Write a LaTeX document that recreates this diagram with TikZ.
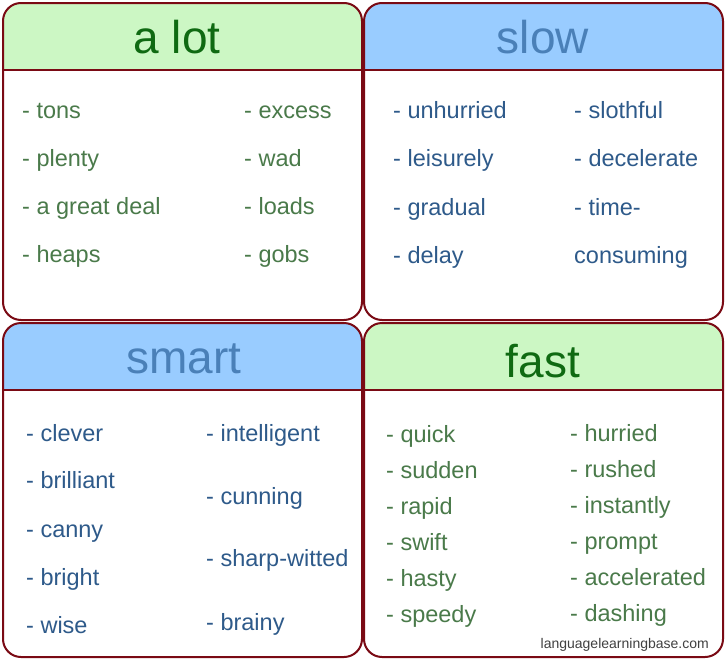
\documentclass[tikz,border=0pt]{standalone}
\usepackage{fontspec}
\setmainfont{Liberation Sans}
\definecolor{bord}{HTML}{7A0A14}
\definecolor{hgreen}{HTML}{CCF7C4}
\definecolor{hblue}{HTML}{99CCFF}
\definecolor{tgreen}{HTML}{0F6A12}
\definecolor{tblue}{HTML}{4A80B8}
\definecolor{wgreen}{HTML}{4A7A4A}
\definecolor{wblue}{HTML}{2E5A8A}
\begin{document}
\begin{tikzpicture}[x=1pt,y=-1pt,
  panel/.style={draw=bord,line width=2pt,rounded corners=18pt},
  ttl/.style={font=\fontsize{46}{50}\selectfont,anchor=center,text height=1.5ex,text depth=0.25ex,yshift=-12pt},
  wbase/.style={anchor=west,font=\fontsize{23.5}{26}\selectfont,inner sep=0pt,text height=1.5ex,text depth=0.25ex,yshift=-5pt},
  wg/.style={wbase,text=wgreen},
  wb/.style={wbase,text=wblue}]
\useasboundingbox (0,0) rectangle (726,664);
\fill[white] (0,0) rectangle (726,664);
% headers
\begin{scope}
\clip[rounded corners=18pt] (3,3) rectangle (362,320);
\fill[hgreen] (3,3) rectangle (362,70);
\end{scope}
\begin{scope}
\clip[rounded corners=18pt] (364,3) rectangle (723,320);
\fill[hblue] (364,3) rectangle (723,70);
\end{scope}
\begin{scope}
\clip[rounded corners=18pt] (3,323) rectangle (362,657);
\fill[hblue] (3,323) rectangle (362,390);
\end{scope}
\begin{scope}
\clip[rounded corners=18pt] (364,323) rectangle (723,657);
\fill[hgreen] (364,323) rectangle (723,390);
\end{scope}
\draw[bord,line width=2pt] (3,70)--(362,70) (364,70)--(723,70) (3,390)--(362,390) (364,390)--(723,390);
\draw[panel] (3,3) rectangle (362,320);
\draw[panel] (364,3) rectangle (723,320);
\draw[panel] (3,323) rectangle (362,657);
\draw[panel] (364,323) rectangle (723,657);
% titles
\node[ttl,text=tgreen] (t1) at (177,38) {a lot};
\node[ttl,text=tblue] (t2) at (543,38) {slow};
\node[ttl,text=tblue] (t3) at (184,358) {smart};
\node[ttl,text=tgreen] (t4) at (543,362) {fast};
% a lot
\node[wg] (a1) at (22,110) {- tons};
\node[wg] (a2) at (22,158) {- plenty};
\node[wg] (a3) at (22,206) {- a great deal};
\node[wg] (a4) at (22,254) {- heaps};
\node[wg] (a5) at (244,110) {- excess};
\node[wg] (a6) at (244,158) {- wad};
\node[wg] (a7) at (244,206) {- loads};
\node[wg] (a8) at (244,254) {- gobs};
% slow
\node[wb] (s1) at (393,110) {- unhurried};
\node[wb] (s2) at (393,158) {- leisurely};
\node[wb] (s3) at (393,207) {- gradual};
\node[wb] (s4) at (393,255) {- delay};
\node[wb] (s5) at (574,110) {- slothful};
\node[wb] (s6) at (574,158) {- decelerate};
\node[wb] (s7) at (574,207) {- time-};
\node[wb] (s8) at (574,255) {consuming};
% smart
\node[wb] (m1) at (26,433) {- clever};
\node[wb] (m2) at (26,480) {- brilliant};
\node[wb] (m3) at (26,529) {- canny};
\node[wb] (m4) at (26,577) {- bright};
\node[wb] (m5) at (26,625) {- wise};
\node[wb] (m6) at (206,433) {- intelligent};
\node[wb] (m7) at (206,496) {- cunning};
\node[wb] (m8) at (206,558) {- sharp-witted};
\node[wb] (m9) at (206,622) {- brainy};
% fast
\node[wg] (f1) at (386,434) {- quick};
\node[wg] (f2) at (386,470) {- sudden};
\node[wg] (f3) at (386,506) {- rapid};
\node[wg] (f4) at (386,542) {- swift};
\node[wg] (f5) at (386,578) {- hasty};
\node[wg] (f6) at (386,614) {- speedy};
\node[wg] (f7) at (570,433) {- hurried};
\node[wg] (f8) at (570,469) {- rushed};
\node[wg] (f9) at (570,505) {- instantly};
\node[wg] (f10) at (570,541) {- prompt};
\node[wg] (f11) at (570,577) {- accelerated};
\node[wg] (f12) at (570,613) {- dashing};
\node[anchor=east,text=black!75,font=\fontsize{14}{16}\selectfont,inner sep=0pt] (src) at (709,645) {languagelearningbase.com};
\end{tikzpicture}
\end{document}
